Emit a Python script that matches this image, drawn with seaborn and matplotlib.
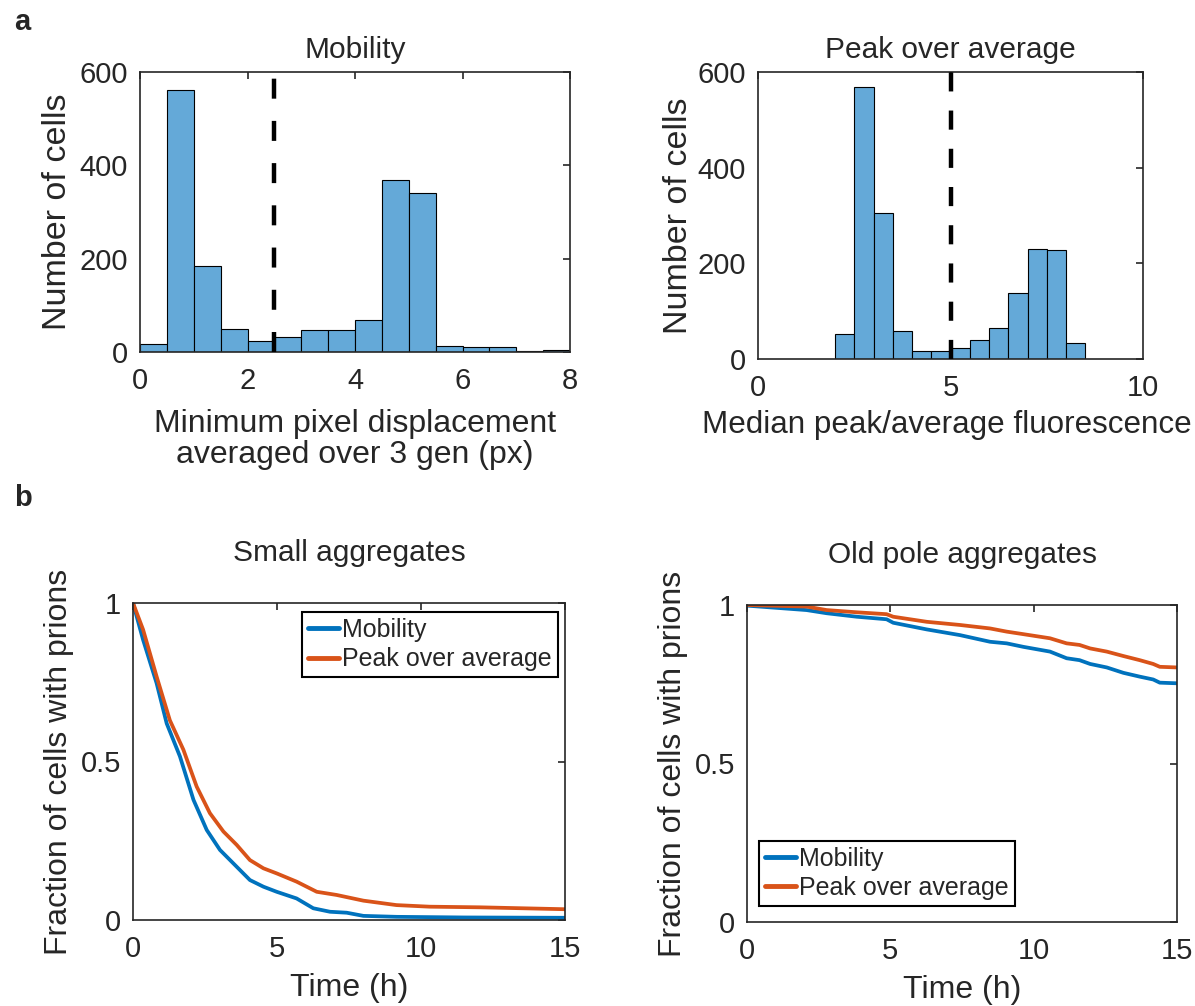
import numpy as np
import pandas as pd
import matplotlib
matplotlib.use("Agg")
import matplotlib.pyplot as plt
import seaborn as sns
from matplotlib.ticker import FuncFormatter

# ---------------- data ----------------
mob_edges = [0.0, 0.5, 1.0, 1.5, 2.0, 2.5, 3.0, 3.5, 4.0, 4.5, 5.0, 5.5, 6.0, 6.5, 7.0, 7.5, 8.0]
mob_counts = [18, 561, 184, 49, 24, 32, 47, 48, 69, 369, 340, 13, 11, 11, 3, 5]
mob_threshold = 2.5

poa_edges = [2.0, 2.5, 3.0, 3.5, 4.0, 4.5, 5.0, 5.5, 6.0, 6.5, 7.0, 7.5, 8.0, 8.5]
poa_counts = [52, 569, 306, 59, 16, 16, 24, 40, 64, 138, 231, 227, 34]
poa_threshold = 5

small_mob_t = [0, 0.35, 0.82, 1.17, 1.63, 2.1, 2.56, 3.02, 3.6, 4.06, 4.53, 4.99,
               5.68, 6.26, 6.84, 7.42, 8.0, 9.15, 11.5, 15]
small_mob_v = [1, 0.884, 0.747, 0.62, 0.516, 0.379, 0.284, 0.221, 0.168, 0.126,
               0.105, 0.089, 0.068, 0.037, 0.026, 0.023, 0.013, 0.01, 0.008, 0.007]
small_poa_t = [0, 0.35, 0.82, 1.28, 1.75, 2.21, 2.67, 3.14, 3.6, 4.06, 4.53, 4.99,
               5.68, 6.38, 7.07, 8.0, 9.15, 10.3, 12.05, 15]
small_poa_v = [1, 0.916, 0.768, 0.63, 0.537, 0.421, 0.337, 0.279, 0.237, 0.189,
               0.163, 0.147, 0.121, 0.089, 0.079, 0.061, 0.047, 0.042, 0.04, 0.034]

old_t = [0, 2.08, 2.78, 3.83, 4.87, 5.1, 6.27, 7.43, 8.48, 9.06, 9.64, 10.57, 11.15,
         11.6, 11.97, 12.55, 13.13, 13.7, 14.17, 14.4, 15]
old_mob_v = [0.998, 0.984, 0.974, 0.963, 0.955, 0.944, 0.923, 0.905, 0.884, 0.879,
             0.868, 0.853, 0.832, 0.826, 0.814, 0.803, 0.786, 0.774, 0.765, 0.755, 0.753]
old_poa_v = [1.0, 0.995, 0.984, 0.977, 0.971, 0.963, 0.947, 0.937, 0.926, 0.916,
             0.908, 0.895, 0.879, 0.874, 0.863, 0.853, 0.839, 0.826, 0.814, 0.805, 0.803]

methods = ["Mobility", "Peak over average"]
line_colors = ["#0072BD", "#D95319"]
bar_color = "#64A9D8"
text_color = "#262626"

# ---------------- style ----------------
sns.set_style("white")
plt.rcParams["font.family"] = ["Liberation Sans", "DejaVu Sans"]
plt.rcParams["text.color"] = text_color
plt.rcParams["axes.labelcolor"] = text_color
plt.rcParams["xtick.color"] = text_color
plt.rcParams["ytick.color"] = text_color
plt.rcParams["axes.edgecolor"] = text_color

W, H = 1195, 1006
fig = plt.figure(figsize=(W / 100, H / 100), dpi=100)


def add_ax(x0, y0, x1, y1):
    return fig.add_axes([x0 / W, 1 - y1 / H, (x1 - x0) / W, (y1 - y0) / H])


TICK_FS = 21
LABEL_FS = 23
TITLE_FS = 21.5


def style_ax(ax):
    for s in ax.spines.values():
        s.set_visible(True)
        s.set_linewidth(1.2)
        s.set_color(text_color)
    ax.tick_params(direction="in", length=5, width=1.2, labelsize=TICK_FS,
                   top=True, right=True)
    ax.tick_params(axis="x", pad=11)
    ax.tick_params(axis="y", pad=8.5)


gfmt = FuncFormatter(lambda v, p: "%g" % v)


def centers(edges):
    return [(a + b) / 2 for a, b in zip(edges[:-1], edges[1:])]


# ---- a, left: Mobility histogram ----
ax1 = add_ax(140, 72, 570, 352)
mob_df = pd.DataFrame({"v": centers(mob_edges), "n": mob_counts})
sns.histplot(data=mob_df, x="v", weights="n", bins=mob_edges, ax=ax1,
             color=bar_color, alpha=1, edgecolor="black", linewidth=0.8)
ax1.plot([mob_threshold, mob_threshold], [0, 600], color="black", lw=3.2,
         dashes=(4.5, 5.0), zorder=5)
ax1.set_xlim(0, 8)
ax1.set_ylim(0, 600)
ax1.set_xticks([0, 2, 4, 6, 8])
ax1.set_yticks([0, 200, 400, 600])
style_ax(ax1)
ax1.set_title("Mobility", fontsize=TITLE_FS, pad=10)
ax1.set_xlabel("Minimum pixel displacement\naveraged over 3 gen (px)",
               fontsize=LABEL_FS, linespacing=1.05, labelpad=10)
ax1.set_ylabel("Number of cells", fontsize=24.5, labelpad=5)

# ---- a, right: Peak over average histogram ----
ax2 = add_ax(758, 72, 1143, 359)
poa_df = pd.DataFrame({"v": centers(poa_edges), "n": poa_counts})
sns.histplot(data=poa_df, x="v", weights="n", bins=poa_edges, ax=ax2,
             color=bar_color, alpha=1, edgecolor="black", linewidth=0.8)
ax2.plot([poa_threshold, poa_threshold], [0, 600], color="black", lw=3.2,
         dashes=(4.3, 4.3), zorder=5)
ax2.set_xlim(0, 10)
ax2.set_ylim(0, 600)
ax2.set_xticks([0, 5, 10])
ax2.set_yticks([0, 200, 400, 600])
style_ax(ax2)
ax2.set_title("Peak over average", fontsize=TITLE_FS, pad=10)
ax2.set_xlabel("Median peak/average fluorescence", fontsize=22.6, labelpad=5.5)
ax2.xaxis.label.set_x(0.49)
ax2.set_ylabel("Number of cells", fontsize=24.5, labelpad=3)

# ---- b, survival curves ----
small_df = pd.concat([
    pd.DataFrame({"t": small_mob_t, "frac": small_mob_v, "method": methods[0]}),
    pd.DataFrame({"t": small_poa_t, "frac": small_poa_v, "method": methods[1]}),
])
old_df = pd.concat([
    pd.DataFrame({"t": old_t, "frac": old_mob_v, "method": methods[0]}),
    pd.DataFrame({"t": old_t, "frac": old_poa_v, "method": methods[1]}),
])

ax3 = add_ax(133, 603, 565, 920)
ax4 = add_ax(747, 605, 1177, 922)
for ax, df, title in [(ax3, small_df, "Small aggregates"),
                      (ax4, old_df, "Old pole aggregates")]:
    sns.lineplot(data=df, x="t", y="frac", hue="method", hue_order=methods,
                 palette=line_colors, estimator=None, sort=True, lw=2.7, ax=ax)
    ax.set_xlim(0, 15)
    ax.set_ylim(0, 1)
    ax.set_xticks([0, 5, 10, 15])
    ax.set_yticks([0, 0.5, 1])
    ax.yaxis.set_major_formatter(gfmt)
    style_ax(ax)
    ax.set_title(title, fontsize=TITLE_FS, pad=30)
    ax.set_xlabel("Time (h)", fontsize=LABEL_FS, labelpad=7)
    ax.set_ylabel("Fraction of cells with prions", fontsize=LABEL_FS, labelpad=5)

leg_kw = dict(fontsize=18, frameon=True, fancybox=False, edgecolor="black",
              framealpha=1, handlelength=1.25, handletextpad=0.12,
              labelspacing=0.22, borderpad=0.24, borderaxespad=0)
l3 = ax3.legend(loc="upper right", bbox_to_anchor=(0.984, 0.972), **leg_kw)
l4 = ax4.legend(loc="lower left", bbox_to_anchor=(0.028, 0.05), **leg_kw)
for leg in (l3, l4):
    leg.get_frame().set_linewidth(1.5)
    for ln in leg.get_lines():
        ln.set_linewidth(3.5)

fig.text(14 / W, 1 - 22 / H, "a", fontsize=21, fontweight="bold", va="center")
fig.text(14 / W, 1 - 498 / H, "b", fontsize=21, fontweight="bold", va="center")

fig.savefig("out.png", dpi=100)
